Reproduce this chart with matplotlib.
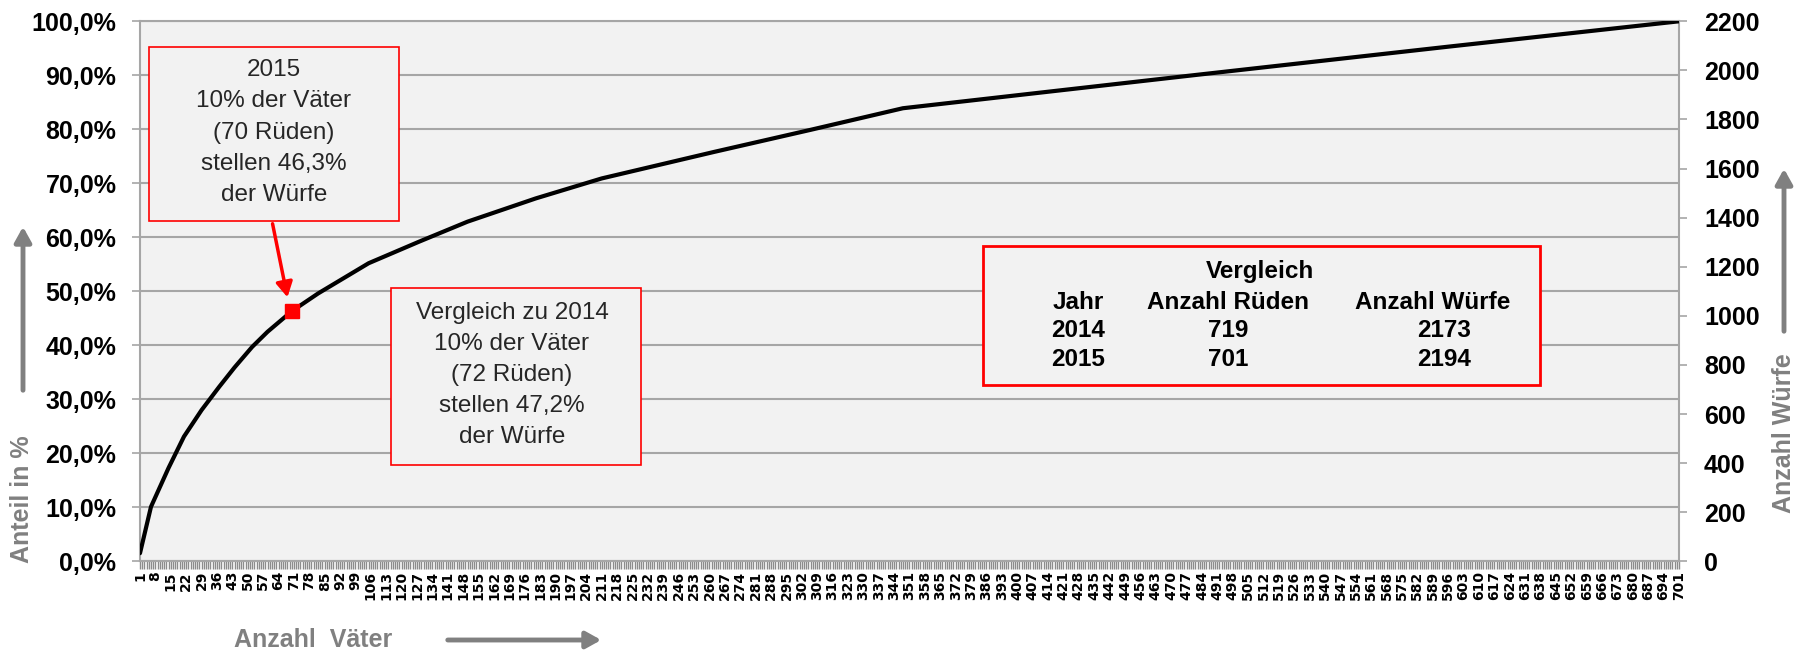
import matplotlib.pyplot as plt
from matplotlib.patches import Rectangle, FancyArrowPatch
from matplotlib.ticker import FixedLocator

# cumulative share of litters per sire (2015)
vaeter = [1, 6, 14, 21, 29, 37, 44, 52, 59, 70, 82, 105, 128, 150, 181, 211,
          262, 306, 348, 402, 482, 596, 701]
anteil = [1.5, 10.1, 17.3, 23.1, 28.0, 32.3, 35.9, 39.7, 42.5, 46.3, 49.6, 55.2,
          59.2, 62.9, 67.2, 70.9, 75.8, 79.9, 83.9, 86.4, 90.1, 95.3, 100.0]

marker_x = [70]
marker_y = [46.3]

x_labels = list(range(1, 702, 7))
pct_ticks = list(range(0, 101, 10))
wuerfe_ticks = list(range(0, 2201, 200))

table_years = ["2014", "2015"]
table_rueden = ["719", "701"]
table_wuerfe = ["2173", "2194"]

box_2015 = ["2015", "10% der Väter", "(70 Rüden)", "stellen 46,3%", "der Würfe"]
box_2014 = ["Vergleich zu 2014", "10% der Väter", "(72 Rüden)", "stellen 47,2%", "der Würfe"]

plt.rcParams['font.family'] = ['Liberation Sans', 'DejaVu Sans']

W, H = 1812, 656
fig = plt.figure(figsize=(W / 100, H / 100), dpi=100)


def fx(x, y):
    # pixel position (from top-left) -> figure fraction
    return x / W, 1 - y / H


grid_c = "#A6A6A6"
ax = fig.add_axes([140 / W, 1 - 561.3 / H, (1679 - 140) / W, (561.3 - 21.3) / H])
ax.set_facecolor("#F2F2F2")
ax.plot(vaeter, anteil, color="black", lw=3, solid_capstyle="round",
        solid_joinstyle="round", zorder=3)
ax.plot(marker_x, marker_y, "s", color="#FF0000", ms=10, mec="#FF0000", zorder=4)

ax.set_xlim(1, 701)
ax.set_ylim(0, 100)
ax.set_yticks(pct_ticks)
ax.set_yticklabels([f"{v},0%" for v in pct_ticks], fontsize=18, fontweight="bold")
ax.yaxis.grid(True, color=grid_c, lw=1.5)
ax.set_axisbelow(True)
ax.tick_params(axis="y", length=6, width=1.2, color=grid_c, pad=11)

ax.set_xticks(x_labels)
ax.set_xticklabels([str(v) for v in x_labels], rotation=90, fontsize=10,
                   fontweight="bold", family="DejaVu Sans")
ax.xaxis.set_minor_locator(FixedLocator(list(range(1, 702))))
ax.tick_params(axis="x", which="both", length=6, width=1, color="#8C8C8C", pad=1)

for s in ["left", "right", "top", "bottom"]:
    ax.spines[s].set_color(grid_c)
    ax.spines[s].set_linewidth(1.5)

ax2 = ax.twinx()
ax2.set_ylim(0, 2200)
ax2.set_yticks(wuerfe_ticks)
ax2.set_yticklabels([str(v) for v in wuerfe_ticks], fontsize=18, fontweight="bold")
ax2.tick_params(axis="y", length=6, width=1.2, color=grid_c, pad=12)
for s in ["left", "right", "top", "bottom"]:
    ax2.spines[s].set_visible(False)


# annotation boxes
def add_box(x0, y0, x1, y1, lw):
    r = Rectangle(fx(x0, y1), (x1 - x0) / W, (y1 - y0) / H, transform=fig.transFigure,
                  facecolor="#F2F2F2", edgecolor="#FF0000", lw=lw, zorder=5)
    fig.add_artist(r)


add_box(149, 47, 399, 221, 1.2)
for i, line in enumerate(box_2015):
    fig.text(*fx(274, 70 + i * 31.3), line, fontsize=17.5, color="#262626",
             ha="center", va="center", zorder=6)

fig.add_artist(FancyArrowPatch(fx(272, 221), fx(288, 300), transform=fig.transFigure,
                               arrowstyle="-|>,head_length=9,head_width=5",
                               color="#FF0000", lw=2.5, zorder=6))

add_box(391, 288, 641, 465, 1.2)
for i, line in enumerate(box_2014):
    fig.text(*fx(512, 313 + i * 31), line, fontsize=17.5, color="#262626",
             ha="center", va="center", zorder=6)

add_box(983, 246, 1540, 385, 2)
fig.text(*fx(1260, 272), "Vergleich", fontsize=17.5, fontweight="bold",
         ha="center", va="center", zorder=6)
for cx, vx, head, vals in [(1078, 1078, "Jahr", table_years),
                           (1228, 1228, "Anzahl Rüden", table_rueden),
                           (1433, 1444, "Anzahl Würfe", table_wuerfe)]:
    fig.text(*fx(cx, 302), head, fontsize=17.5, fontweight="bold",
             ha="center", va="center", zorder=6)
    for j, v in enumerate(vals):
        fig.text(*fx(vx, 331 + j * 28.5), v, fontsize=17.5, fontweight="bold",
                 ha="center", va="center", zorder=6)

# axis titles with gray arrows
gray = "#808080"
fig.text(*fx(22, 499), "Anteil in %", rotation=90, fontsize=18, fontweight="bold",
         color=gray, ha="center", va="center")
fig.text(*fx(1784, 433), "Anzahl Würfe", rotation=90, fontsize=18, fontweight="bold",
         color=gray, ha="center", va="center")
fig.text(*fx(313, 640), "Anzahl  Väter", fontsize=18, fontweight="bold",
         color=gray, ha="center", va="center")

for p0, p1 in [((23, 393), (23, 224)), ((1784, 334), (1784, 166)), ((445, 640), (604, 640))]:
    fig.add_artist(FancyArrowPatch(fx(*p0), fx(*p1), transform=fig.transFigure,
                                   arrowstyle="-|>,head_length=9,head_width=5",
                                   color=gray, lw=3.5))

fig.savefig("out.png", dpi=100)
